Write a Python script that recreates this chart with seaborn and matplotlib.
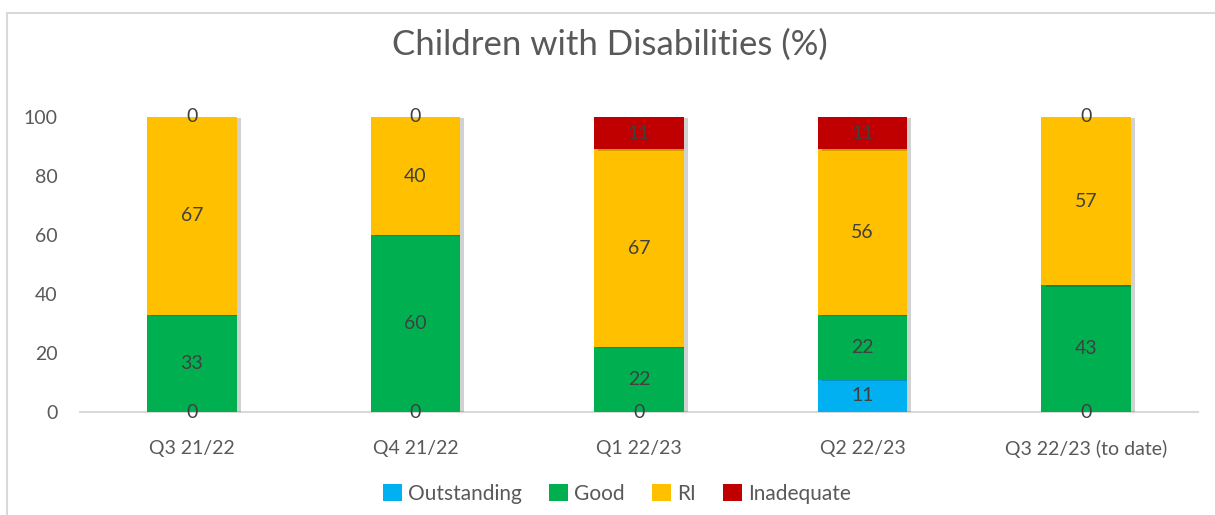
import numpy as np
import pandas as pd
import matplotlib
matplotlib.use("Agg")
import matplotlib.pyplot as plt
import matplotlib.patheffects as pe
from matplotlib.patches import Rectangle, Patch
import seaborn as sns

categories = ["Q3 21/22", "Q4 21/22", "Q1 22/23", "Q2 22/23", "Q3 22/23 (to date)"]
outstanding = [0, 0, 0, 11, 0]
good = [33, 60, 22, 22, 43]
ri = [67, 40, 67, 56, 57]
inadequate = [0, 0, 11, 11, 0]
series_names = ["Outstanding", "Good", "RI", "Inadequate"]
colors = ["#00B0F0", "#00B050", "#FFC000", "#C00000"]
yticks = [0, 20, 40, 60, 80, 100]

sns.set_theme(style="white")
plt.rcParams["font.family"] = ["Lato", "DejaVu Sans"]
text_color = "#595959"

fig = plt.figure(figsize=(12.15, 5.15), dpi=100)
W, H = 1215, 515
ax = fig.add_axes([80 / W, 1 - 412 / H, (1198 - 80) / W, (412 - 117) / H])

# chart border
fig.patches.append(Rectangle((7 / W, -0.1), 1.2, 1 - 13 / H + 0.1, transform=fig.transFigure,
                             fill=False, edgecolor="#D9D9D9", linewidth=1.5, zorder=0))

series = [outstanding, good, ri, inadequate]
bottom = np.zeros(len(categories))
shadow = [pe.SimplePatchShadow(offset=(3, -1), shadow_rgbFace="#000000", alpha=0.18), pe.Normal()]
for name, vals, col in zip(series_names, series, colors):
    df = pd.DataFrame({"cat": categories, "val": vals})
    sns.barplot(data=df, x="cat", y="val", order=categories, color=col, width=0.4,
                bottom=bottom.copy(), ax=ax, saturation=1, label=name, linewidth=0,
                err_kws={"linewidth": 0})
    for i, v in enumerate(vals):
        ax.text(i, bottom[i] + v / 2, f"{v}", ha="center", va="center",
                fontsize=14, color="#404040", zorder=10)
    bottom = bottom + np.array(vals)

for p in ax.patches:
    p.set_path_effects(shadow)

ax.set_xlim(-0.5, 4.5)
ax.set_ylim(0, 100)
ax.set_yticks(yticks)
ax.set_yticklabels([str(t) for t in yticks], fontsize=14, color=text_color)
ax.tick_params(axis="y", length=0, pad=16)
ax.tick_params(axis="x", length=0, pad=20, labelsize=14, labelcolor=text_color)
ax.set_xlabel("")
ax.set_ylabel("")
for s in ["top", "right", "left"]:
    ax.spines[s].set_visible(False)
ax.spines["bottom"].set_color("#D9D9D9")
ax.spines["bottom"].set_linewidth(1.5)
ax.spines["bottom"].set_zorder(0.5)

fig.text(610 / W, 1 - 45 / H, "Children with Disabilities (%)", ha="center", va="center",
         fontsize=25, color=text_color)

handles = [Patch(facecolor=c, edgecolor="none") for c in colors]
leg = fig.legend(handles, series_names, loc="center", bbox_to_anchor=(617 / W, 1 - 494 / H),
                 ncol=4, frameon=False, fontsize=15, handlelength=0.9, handleheight=0.9,
                 handletextpad=0.3, columnspacing=1.3)
for t in leg.get_texts():
    t.set_color(text_color)
if ax.get_legend() is not None:
    ax.get_legend().remove()

fig.savefig("out.png", dpi=100)
